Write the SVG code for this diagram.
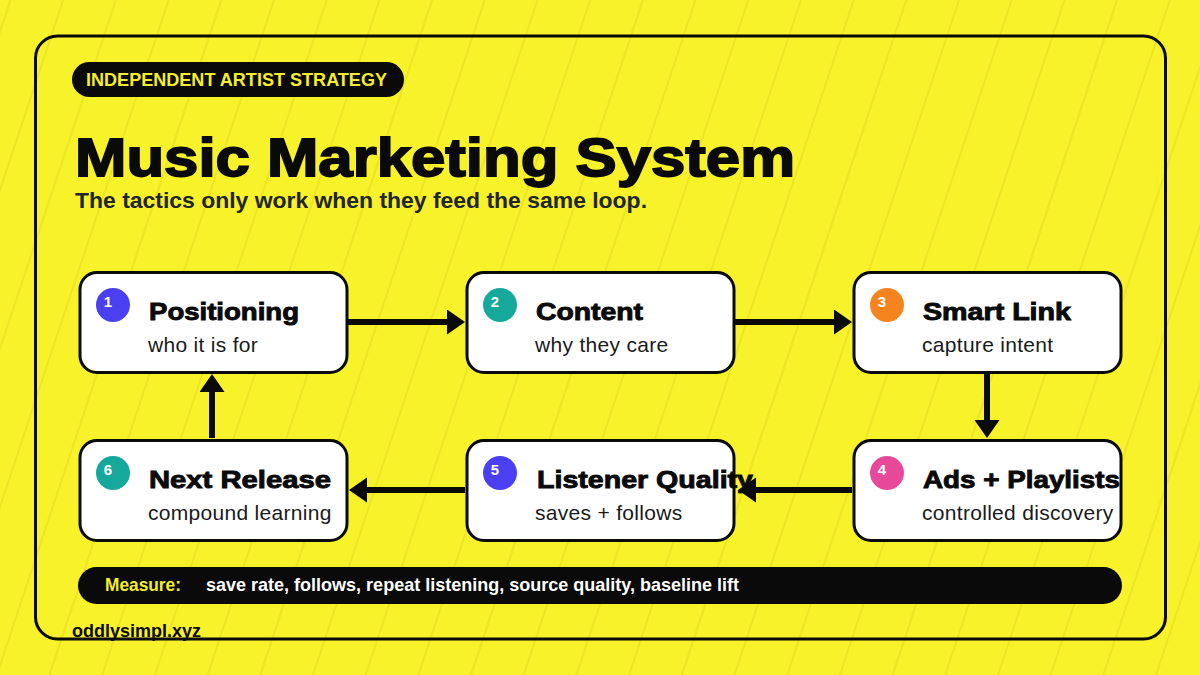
<svg xmlns="http://www.w3.org/2000/svg" width="1200" height="675" viewBox="0 0 1200 675">
  <defs>
    <pattern id="stripes" patternUnits="userSpaceOnUse" width="50" height="50" patternTransform="rotate(18.4)">
      <line x1="10" y1="0" x2="10" y2="50" stroke="#e6dd1f" stroke-width="1.3"/>
    </pattern>
    <marker id="arrow" markerUnits="userSpaceOnUse" markerWidth="20" markerHeight="26" refX="8" refY="12.5" orient="auto">
      <path d="M0,0 L18,12.5 L0,25 z" fill="#0a0a0a"/>
    </marker>
    <style>
      .node rect { fill: #ffffff; stroke: #0a0a0a; stroke-width: 3; }
      .title { font-family: "Liberation Sans", Arial, sans-serif; font-weight: bold; font-size: 24px; fill: #0a0a0a; stroke: #0a0a0a; stroke-width: 0.9; }
      .sub { font-family: "Liberation Sans", Arial, sans-serif; font-size: 21px; fill: #1a1a1a; letter-spacing: 0.3px; }
      .num { font-family: "Liberation Sans", Arial, sans-serif; font-weight: bold; font-size: 15px; fill: #ffffff; text-anchor: middle; }
      .conn line { stroke: #0a0a0a; stroke-width: 6; marker-end: url(#arrow); }
      .c-blue { fill: #4b3ff2; }
      .c-teal { fill: #17a89c; }
      .c-orange { fill: #f5841f; }
      .c-pink { fill: #e8489a; }
    </style>
  </defs>

  <rect x="0" y="0" width="1200" height="675" fill="#f8f22b"/>
  <rect x="0" y="0" width="1200" height="675" fill="url(#stripes)"/>

  <rect x="35.5" y="36" width="1130" height="603" rx="22" fill="none" stroke="#0a0a0a" stroke-width="3"/>

  <g id="header">
    <rect x="72" y="62" width="332" height="35" rx="17.5" fill="#0a0a0a"/>
    <text x="86" y="86" font-family="Liberation Sans, Arial, sans-serif" font-weight="bold" font-size="18" fill="#f5ee2a" textLength="301" lengthAdjust="spacingAndGlyphs">INDEPENDENT ARTIST STRATEGY</text>
    <text x="75" y="176" font-family="Liberation Sans, Arial, sans-serif" font-weight="bold" font-size="54" fill="#0a0a0a" stroke="#0a0a0a" stroke-width="1.8" textLength="720" lengthAdjust="spacingAndGlyphs">Music Marketing System</text>
    <text x="75" y="208" font-family="Liberation Sans, Arial, sans-serif" font-weight="bold" font-size="22" fill="#22252b" textLength="572" lengthAdjust="spacingAndGlyphs">The tactics only work when they feed the same loop.</text>
  </g>

  <g id="connectors" class="conn">
    <line x1="348" y1="322" x2="455" y2="322"/>
    <line x1="735" y1="322" x2="842" y2="322"/>
    <line x1="987" y1="374" x2="987" y2="428"/>
    <line x1="852" y1="490" x2="748" y2="490"/>
    <line x1="465" y1="490" x2="359" y2="490"/>
    <line x1="212" y1="438" x2="212" y2="384"/>
  </g>

  <g id="node1" class="node">
    <rect x="80" y="272.5" width="267" height="100" rx="17"/>
    <circle cx="113" cy="305" r="17" class="c-blue"/>
    <text class="num" x="108" y="307">1</text>
    <text class="title" x="149" y="320" textLength="150" lengthAdjust="spacingAndGlyphs">Positioning</text>
    <text class="sub" x="148" y="352">who it is for</text>
  </g>

  <g id="node2" class="node">
    <rect x="467" y="272.5" width="267" height="100" rx="17"/>
    <circle cx="500" cy="305" r="17" class="c-teal"/>
    <text class="num" x="495" y="307">2</text>
    <text class="title" x="536" y="320" textLength="107" lengthAdjust="spacingAndGlyphs">Content</text>
    <text class="sub" x="535" y="352">why they care</text>
  </g>

  <g id="node3" class="node">
    <rect x="854" y="272.5" width="267" height="100" rx="17"/>
    <circle cx="887" cy="305" r="17" class="c-orange"/>
    <text class="num" x="882" y="307">3</text>
    <text class="title" x="923" y="320" textLength="148" lengthAdjust="spacingAndGlyphs">Smart Link</text>
    <text class="sub" x="922" y="352">capture intent</text>
  </g>

  <g id="node4" class="node">
    <rect x="854" y="440.5" width="267" height="100" rx="17"/>
    <circle cx="887" cy="473" r="17" class="c-pink"/>
    <text class="num" x="882" y="475">4</text>
    <text class="title" x="923" y="488" textLength="197" lengthAdjust="spacingAndGlyphs">Ads + Playlists</text>
    <text class="sub" x="922" y="520">controlled discovery</text>
  </g>

  <g id="node5" class="node">
    <rect x="467" y="440.5" width="267" height="100" rx="17"/>
    <circle cx="500" cy="473" r="17" class="c-blue"/>
    <text class="num" x="495" y="475">5</text>
    <text class="title" x="537" y="488" textLength="216" lengthAdjust="spacingAndGlyphs">Listener Quality</text>
    <text class="sub" x="535" y="520">saves + follows</text>
  </g>

  <g id="node6" class="node">
    <rect x="80" y="440.5" width="267" height="100" rx="17"/>
    <circle cx="113" cy="473" r="17" class="c-teal"/>
    <text class="num" x="108" y="475">6</text>
    <text class="title" x="149" y="488" textLength="182" lengthAdjust="spacingAndGlyphs">Next Release</text>
    <text class="sub" x="148" y="520">compound learning</text>
  </g>

  <g id="measure">
    <rect x="78" y="567" width="1044" height="37" rx="18.5" fill="#0a0a0a"/>
    <text x="105" y="591" font-family="Liberation Sans, Arial, sans-serif" font-weight="bold" font-size="18.5" fill="#f5ee2a" textLength="76" lengthAdjust="spacingAndGlyphs">Measure:</text>
    <text x="206" y="591" font-family="Liberation Sans, Arial, sans-serif" font-weight="bold" font-size="18.5" fill="#ffffff" textLength="533" lengthAdjust="spacingAndGlyphs">save rate, follows, repeat listening, source quality, baseline lift</text>
  </g>

  <text x="72" y="637" font-family="Liberation Sans, Arial, sans-serif" font-weight="bold" font-size="18.5" fill="#0a0a0a" textLength="129" lengthAdjust="spacingAndGlyphs">oddlysimpl.xyz</text>
</svg>
